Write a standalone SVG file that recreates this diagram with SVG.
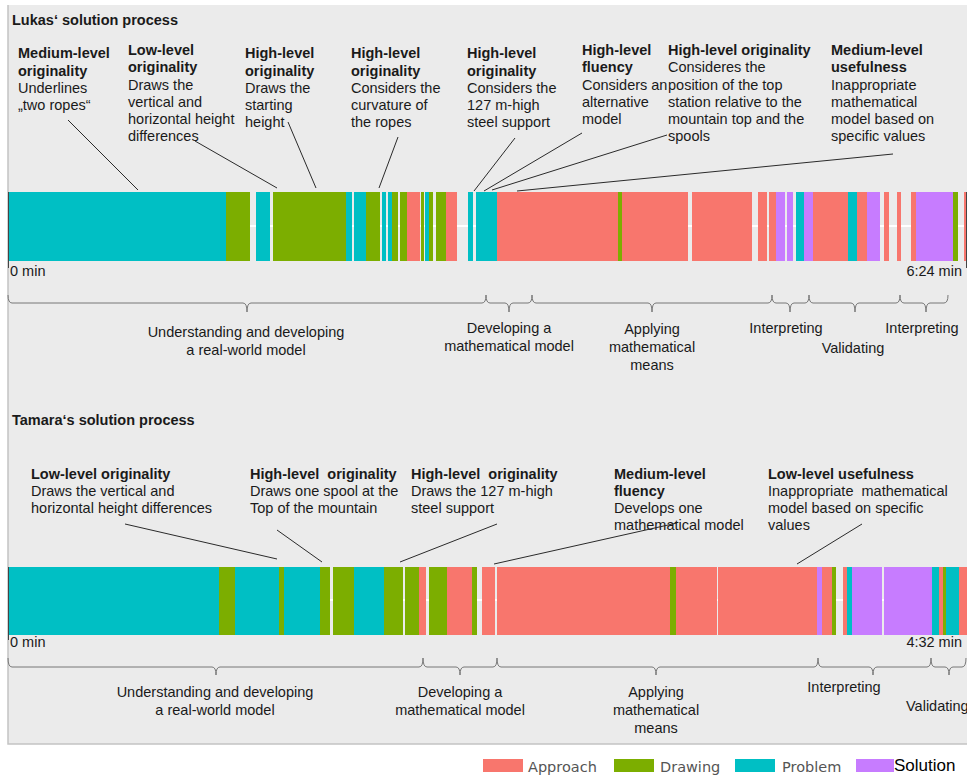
<svg xmlns="http://www.w3.org/2000/svg" width="967" height="776" viewBox="0 0 967 776">
<style>
text{font-family:"Liberation Sans",Arial,sans-serif;font-size:14.5px;fill:#1a1a1a}
.b{font-weight:bold}
.m{text-anchor:middle}
.e{text-anchor:end}
.R{fill:#F8766D}.G{fill:#7CAE00}.T{fill:#00BFC4}.P{fill:#C77CFF}
.ln{stroke:#2a2a2a;stroke-width:1;fill:none}
.br{stroke:#777;stroke-width:1;fill:none}
.ax{stroke:#444;stroke-width:1}
.lg{font-family:"DejaVu Sans",sans-serif;font-size:14.5px;fill:#555}
</style>
<rect x="0" y="0" width="967" height="776" fill="#fff"/>
<rect x="8" y="5" width="960" height="739" fill="#ebebeb"/>
<path d="M8 5 V744 H967" stroke="#c4c4c4" stroke-width="1.5" fill="none"/>

<text class="b" x="12" y="25">Lukas‘ solution process</text>
<text class="b" x="12" y="425">Tamara‘s solution process</text>

<!-- Lukas bar -->
<g id="lukas-bar">
<line x1="8" y1="226" x2="967" y2="226" stroke="#fff" stroke-width="2"/>
<rect class="T" x="8" y="192" width="218" height="69"/>
<rect class="G" x="226" y="192" width="24" height="69"/>
<rect class="T" x="256" y="192" width="14" height="69"/>
<rect class="G" x="273" y="192" width="73" height="69"/>
<rect class="T" x="346" y="192" width="6" height="69"/>
<rect class="T" x="354" y="192" width="12" height="69"/>
<rect class="G" x="366" y="192" width="14" height="69"/>
<rect class="T" x="382" y="192" width="4" height="69"/>
<rect class="T" x="388" y="192" width="4" height="69"/>
<rect class="G" x="392" y="192" width="6" height="69"/>
<rect class="G" x="400" y="192" width="7" height="69"/>
<rect class="R" x="407" y="192" width="13" height="69"/>
<rect class="G" x="421" y="192" width="3" height="69"/>
<rect class="T" x="425" y="192" width="4" height="69"/>
<rect class="G" x="429" y="192" width="4" height="69"/>
<rect class="G" x="436" y="192" width="10" height="69"/>
<rect class="R" x="446" y="192" width="11" height="69"/>
<rect class="T" x="468" y="192" width="5" height="69"/>
<rect class="T" x="476" y="192" width="21" height="69"/>
<rect class="R" x="497" y="192" width="121" height="69"/>
<rect class="G" x="618" y="192" width="4" height="69"/>
<rect class="R" x="622" y="192" width="66" height="69"/>
<rect class="R" x="692" y="192" width="60" height="69"/>
<rect class="R" x="758" y="192" width="9" height="69"/>
<rect class="R" x="769" y="192" width="7" height="69"/>
<rect class="P" x="776" y="192" width="9" height="69"/>
<rect class="P" x="787" y="192" width="6" height="69"/>
<rect class="T" x="796" y="192" width="8" height="69"/>
<rect class="P" x="804" y="192" width="9" height="69"/>
<rect class="R" x="813" y="192" width="35" height="69"/>
<rect class="T" x="848" y="192" width="9" height="69"/>
<rect class="R" x="857" y="192" width="10" height="69"/>
<rect class="P" x="867" y="192" width="13" height="69"/>
<rect class="R" x="884" y="192" width="5" height="69"/>
<rect class="R" x="897" y="192" width="4" height="69"/>
<rect class="R" x="911" y="192" width="5" height="69"/>
<rect class="P" x="916" y="192" width="37" height="69"/>
<rect class="G" x="953" y="192" width="5" height="69"/>
<rect class="R" x="964" y="192" width="2" height="69"/>
<line class="ax" x1="8.5" y1="192" x2="8.5" y2="268"/>
<line class="ax" x1="966.5" y1="192" x2="966.5" y2="268"/>
<text x="10" y="276">0 min</text>
<text class="e" x="962" y="276">6:24 min</text>
</g>

<!-- Tamara bar -->
<g id="tamara-bar">
<line x1="8" y1="600" x2="967" y2="600" stroke="#fff" stroke-width="2"/>
<rect class="T" x="8" y="567" width="211" height="68"/>
<rect class="G" x="219" y="567" width="16" height="68"/>
<rect class="T" x="235" y="567" width="44" height="68"/>
<rect class="G" x="279" y="567" width="5" height="68"/>
<rect class="T" x="284" y="567" width="36" height="68"/>
<rect class="G" x="320" y="567" width="10" height="68"/>
<rect class="G" x="333" y="567" width="21" height="68"/>
<rect class="T" x="354" y="567" width="30" height="68"/>
<rect class="G" x="384" y="567" width="19" height="68"/>
<rect class="G" x="405" y="567" width="14" height="68"/>
<rect class="R" x="419" y="567" width="7" height="68"/>
<rect class="G" x="429" y="567" width="18" height="68"/>
<rect class="R" x="447" y="567" width="25" height="68"/>
<rect class="G" x="472" y="567" width="5" height="68"/>
<rect class="R" x="482" y="567" width="13" height="68"/>
<rect class="R" x="497" y="567" width="173" height="68"/>
<rect class="G" x="670" y="567" width="6" height="68"/>
<rect class="R" x="676" y="567" width="41" height="68"/>
<rect class="R" x="718" y="567" width="99" height="68"/>
<rect class="P" x="817" y="567" width="5" height="68"/>
<rect class="R" x="822" y="567" width="10" height="68"/>
<rect class="G" x="832" y="567" width="4" height="68"/>
<rect class="R" x="843" y="567" width="4" height="68"/>
<rect class="T" x="847" y="567" width="5" height="68"/>
<rect class="P" x="852" y="567" width="30" height="68"/>
<rect class="P" x="884" y="567" width="48" height="68"/>
<rect class="T" x="932" y="567" width="7" height="68"/>
<rect class="R" x="939" y="567" width="4" height="68"/>
<rect class="G" x="943" y="567" width="3" height="68"/>
<rect class="T" x="946" y="567" width="13" height="68"/>
<rect class="R" x="959" y="567" width="8" height="68"/>
<line class="ax" x1="8.5" y1="567" x2="8.5" y2="640"/>
<text x="10" y="647">0 min</text>
<text class="e" x="962" y="647">4:32 min</text>
</g>

<!-- Lukas annotations -->
<g id="l-a1"><text class="b" x="18" y="58">Medium-level</text><text class="b" x="18" y="75.5">originality</text><text x="18" y="93">Underlines</text><text x="18" y="110">„two ropes“</text></g>
<g id="l-a2"><text class="b" x="128" y="55">Low-level</text><text class="b" x="128" y="72">originality</text><text x="128" y="90">Draws the</text><text x="128" y="107">vertical and</text><text x="128" y="124">horizontal height</text><text x="128" y="141">differences</text></g>
<g id="l-a3"><text class="b" x="245" y="58">High-level</text><text class="b" x="245" y="75.5">originality</text><text x="245" y="93">Draws the</text><text x="245" y="110">starting</text><text x="245" y="127">height</text></g>
<g id="l-a4"><text class="b" x="351" y="58">High-level</text><text class="b" x="351" y="75.5">originality</text><text x="351" y="93">Considers the</text><text x="351" y="110">curvature of</text><text x="351" y="127">the ropes</text></g>
<g id="l-a5"><text class="b" x="467" y="58">High-level</text><text class="b" x="467" y="75.5">originality</text><text x="467" y="93">Considers the</text><text x="467" y="110">127 m-high</text><text x="467" y="127">steel support</text></g>
<g id="l-a6"><text class="b" x="582" y="55">High-level</text><text class="b" x="582" y="72">fluency</text><text x="582" y="90">Considers an</text><text x="582" y="107">alternative</text><text x="582" y="124">model</text></g>
<g id="l-a7"><text class="b" x="668" y="55">High-level originality</text><text x="668" y="72">Consideres the</text><text x="668" y="90">position of the top</text><text x="668" y="107">station relative to the</text><text x="668" y="124">mountain top and the</text><text x="668" y="141">spools</text></g>
<g id="l-a8"><text class="b" x="831" y="55">Medium-level</text><text class="b" x="831" y="72">usefulness</text><text x="831" y="90">Inappropriate</text><text x="831" y="107">mathematical</text><text x="831" y="124">model based on</text><text x="831" y="141">specific values</text></g>

<!-- Tamara annotations -->
<g id="t-a1"><text class="b" x="31" y="479">Low-level originality</text><text x="31" y="496">Draws the vertical and</text><text x="31" y="513">horizontal height differences</text></g>
<g id="t-a2"><text class="b" x="250" y="479" xml:space="preserve">High-level  originality</text><text x="250" y="496">Draws one spool at the</text><text x="250" y="513">Top of the mountain</text></g>
<g id="t-a3"><text class="b" x="411" y="479" xml:space="preserve">High-level  originality</text><text x="411" y="496">Draws the 127 m-high</text><text x="411" y="513">steel support</text></g>
<g id="t-a4"><text class="b" x="614" y="479">Medium-level</text><text class="b" x="614" y="496">fluency</text><text x="614" y="513">Develops one</text><text x="614" y="530">mathematical model</text></g>
<g id="t-a5"><text class="b" x="768" y="479">Low-level usefulness</text><text x="768" y="496" xml:space="preserve">Inappropriate  mathematical</text><text x="768" y="513">model based on specific</text><text x="768" y="530">values</text></g>

<!-- connectors -->
<g id="connectors">
<line class="ln" x1="68" y1="120" x2="138" y2="190"/>
<line class="ln" x1="195" y1="141" x2="277" y2="188"/>
<line class="ln" x1="288" y1="122" x2="316" y2="188"/>
<line class="ln" x1="398" y1="137" x2="379" y2="188"/>
<line class="ln" x1="515" y1="138" x2="474" y2="191"/>
<line class="ln" x1="582" y1="133" x2="484" y2="191"/>
<line class="ln" x1="667" y1="135" x2="492" y2="190"/>
<line class="ln" x1="893" y1="154" x2="517" y2="191"/>
<line class="ln" x1="125" y1="524" x2="277" y2="559"/>
<line class="ln" x1="277" y1="530" x2="322" y2="562"/>
<line class="ln" x1="497" y1="524" x2="400" y2="562"/>
<line class="ln" x1="677" y1="523" x2="494" y2="564"/>
<line class="ln" x1="862" y1="524" x2="797" y2="564"/>
</g>

<!-- phase braces Lukas -->
<g id="lukas-phases">
<path class="br" d="M8 295 Q8 303 12 303 H243 Q247 303 247 312 Q247 303 251 303 H482 Q486 303 486 295"/>
<path class="br" d="M486 295 Q486 303 490 303 H505 Q509 303 509 312 Q509 303 513 303 H528 Q532 303 532 295"/>
<path class="br" d="M532 295 Q532 303 536 303 H648 Q652 303 652 312 Q652 303 656 303 H768 Q772 303 772 295"/>
<path class="br" d="M772 295 Q772 303 776 303 H786 Q790 303 790 312 Q790 303 794 303 H805 Q809 303 809 295"/>
<path class="br" d="M809 295 Q809 303 813 303 H851 Q855 303 855 312 Q855 303 859 303 H896 Q900 303 900 295"/>
<path class="br" d="M900 295 Q900 303 904 303 H922 Q926 303 926 312 Q926 303 930 303 H944 Q948 303 948 295"/>
<text class="m" x="246" y="337">Understanding and developing</text>
<text class="m" x="246" y="355">a real-world model</text>
<text class="m" x="509" y="333">Developing a</text>
<text class="m" x="509" y="351">mathematical model</text>
<text class="m" x="652" y="334">Applying</text>
<text class="m" x="652" y="352">mathematical</text>
<text class="m" x="652" y="370">means</text>
<text class="m" x="786" y="333">Interpreting</text>
<text class="m" x="853" y="353">Validating</text>
<text class="m" x="922" y="333">Interpreting</text>
</g>

<!-- phase braces Tamara -->
<g id="tamara-phases">
<path class="br" d="M8 658 Q8 667 12 667 H212 Q216 667 216 675 Q216 667 220 667 H419 Q423 667 423 658"/>
<path class="br" d="M423 658 Q423 667 427 667 H456 Q460 667 460 675 Q460 667 464 667 H493 Q497 667 497 658"/>
<path class="br" d="M497 658 Q497 667 501 667 H652 Q656 667 656 675 Q656 667 660 667 H814 Q818 667 818 658"/>
<path class="br" d="M818 658 Q818 667 822 667 H869 Q873 667 873 675 Q873 667 877 667 H927 Q931 667 931 658"/>
<path class="br" d="M931 658 Q931 667 935 667 H945 Q949 667 949 675 Q949 667 953 667 H962 Q966 667 966 658"/>
<text class="m" x="215" y="697">Understanding and developing</text>
<text class="m" x="215" y="715">a real-world model</text>
<text class="m" x="460" y="697">Developing a</text>
<text class="m" x="460" y="715">mathematical model</text>
<text class="m" x="656" y="697">Applying</text>
<text class="m" x="656" y="715">mathematical</text>
<text class="m" x="656" y="733">means</text>
<text class="m" x="844" y="692">Interpreting</text>
<text x="906" y="711">Validating</text>
</g>

<!-- legend -->
<g id="legend">
<rect class="R" x="483" y="759" width="40" height="13"/>
<text class="lg" x="528" y="772">Approach</text>
<rect class="G" x="614" y="759" width="40" height="13"/>
<text class="lg" x="660" y="772">Drawing</text>
<rect class="T" x="735" y="759" width="40" height="13"/>
<text class="lg" x="782" y="772">Problem</text>
<rect class="P" x="856" y="759" width="38" height="13"/>
<text x="894" y="771" style="font-size:17px;fill:#000">Solution</text>
</g>
</svg>
